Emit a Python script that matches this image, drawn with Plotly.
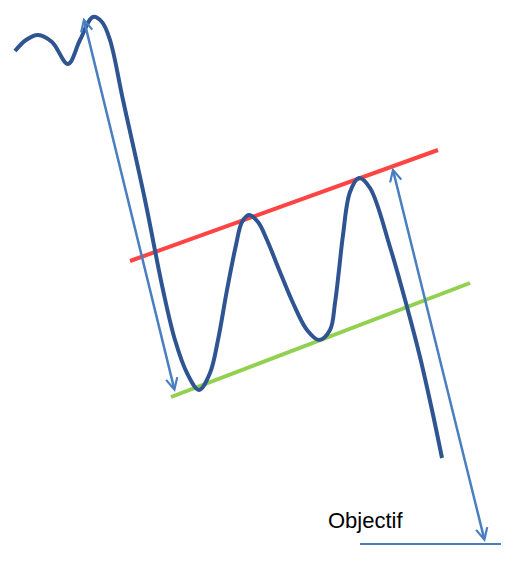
import plotly.graph_objects as go

# Price curve (pixel-like coordinates of the sketch)
curve_x = [15, 26, 38, 52, 68, 80, 93, 102, 110, 123, 145, 163, 175, 187, 199, 210, 218, 227, 236, 242, 249, 258, 267, 280, 293, 307, 319, 330, 335, 339, 343, 350, 359, 370, 390, 407, 420, 432, 442]
curve_y = [51, 40, 35, 42, 64, 40, 17, 22, 40, 100, 200, 290, 340, 373, 390, 373, 340, 290, 245, 222, 215, 222, 240, 272, 303, 330, 340, 330, 303, 270, 235, 192, 178, 188, 247, 307, 357, 410, 458]

# Resistance (red) and support (green) lines
red_x = [130, 438]
red_y = [261, 150]
green_x = [171, 470]
green_y = [397, 283]

# Target line
target_x = [360, 501]
target_y = [544, 544]

# Double-headed arrows: (x0, y0) -> (x1, y1)
arrow1 = [83, 16, 175, 392]
arrow2 = [392, 166, 485, 542]

label_text = "Objectif"
label_pos = [326, 520]

fig = go.Figure()
fig.add_trace(go.Scatter(x=red_x, y=red_y, mode="lines",
                         line=dict(color="#FF4444", width=4), hoverinfo="skip"))
fig.add_trace(go.Scatter(x=green_x, y=green_y, mode="lines",
                         line=dict(color="#92D050", width=4), hoverinfo="skip"))
fig.add_trace(go.Scatter(x=target_x, y=target_y, mode="lines",
                         line=dict(color="#4A7EBB", width=2), hoverinfo="skip"))
fig.add_trace(go.Scatter(x=curve_x, y=curve_y, mode="lines",
                         line=dict(color="#2F5492", width=4, shape="spline", smoothing=1),
                         hoverinfo="skip"))

for a in (arrow1, arrow2):
    fig.add_annotation(x=a[2], y=a[3], ax=a[0], ay=a[1], xref="x", yref="y",
                       axref="x", ayref="y", showarrow=True, text="",
                       arrowhead=5, startarrowhead=5, arrowside="end+start",
                       arrowwidth=2.5, arrowsize=0.9, startarrowsize=0.9,
                       arrowcolor="#4A7EC1", standoff=0, startstandoff=0)

fig.add_annotation(x=label_pos[0], y=label_pos[1], xref="x", yref="y",
                   text=label_text, showarrow=False, xanchor="left", yanchor="middle",
                   font=dict(family="Liberation Sans", size=22, color="black"))

fig.update_layout(width=519, height=574, margin=dict(l=0, r=0, t=0, b=0),
                  plot_bgcolor="white", paper_bgcolor="white", showlegend=False)
fig.update_xaxes(range=[0, 519], visible=False, showgrid=False, zeroline=False)
fig.update_yaxes(range=[574, 0], visible=False, showgrid=False, zeroline=False)

fig.write_html("out.html", config={"displayModeBar": False},
               post_script="document.body.style.margin='0';")
